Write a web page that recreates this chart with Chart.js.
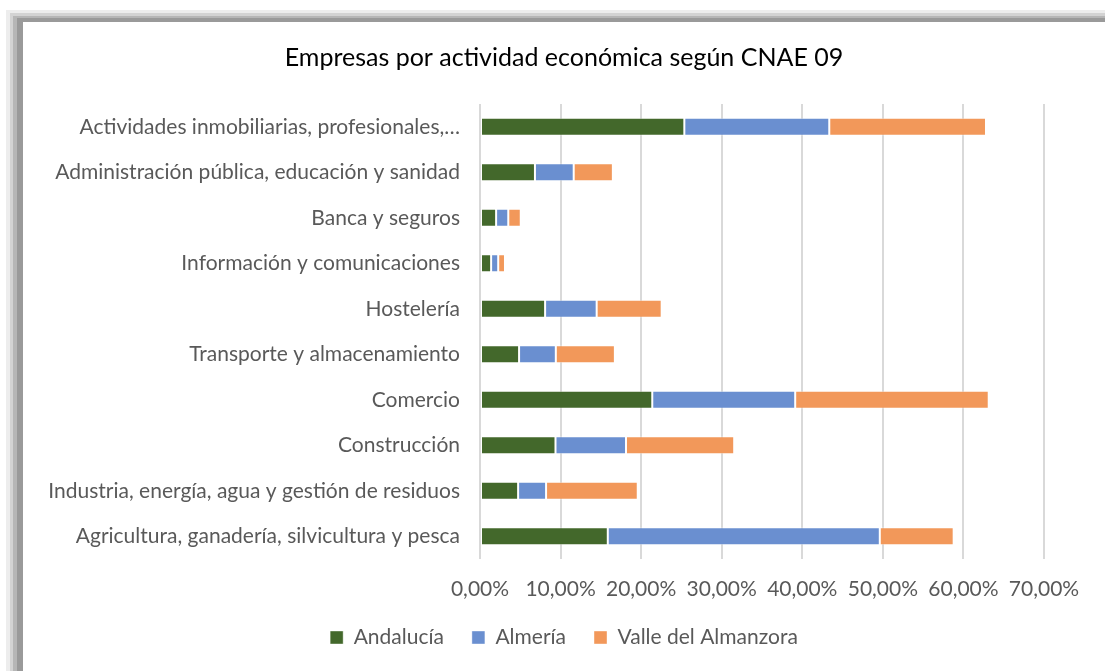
<!DOCTYPE html>
<html>
<head>
<meta charset="utf-8">
<script src="https://cdn.jsdelivr.net/npm/chart.js@4/dist/chart.umd.min.js"></script>
<style>
  html, body { margin: 0; padding: 0; background: #fff; overflow: hidden; }
  body { width: 1105px; height: 671px; position: relative; }
  #frame {
    position: absolute; left: 23px; top: 22px; width: 1200px; height: 760px;
    background: #fff;
    box-shadow: -6px -4px 0 0 #9a9a9a, -10px -6px 0 0 #b6b6b6,
                -13px -9px 0 0 #d3d3d3, -17px -12px 0 0 #ededed;
  }
  #chart { position: absolute; left: 0; top: 0; }
</style>
</head>
<body>
<div id="frame"><canvas id="chart" width="1082" height="649"></canvas></div>
<script>
// Empresas por actividad económica (porcentaje sobre el total)
var categories = [
  "Actividades inmobiliarias, profesionales,…",
  "Administración pública, educación y sanidad",
  "Banca y seguros",
  "Información y comunicaciones",
  "Hostelería",
  "Transporte y almacenamiento",
  "Comercio",
  "Construcción",
  "Industria, energía, agua y gestión de residuos",
  "Agricultura, ganadería, silvicultura y pesca"
];
var andalucia = [25.36, 6.82, 2.00, 1.38, 8.08, 4.85, 21.38, 9.37, 4.73, 15.86];
var almeria   = [17.99, 4.81, 1.51, 0.88, 6.40, 4.56, 17.74, 8.75, 3.47, 33.76];
var valle     = [19.45, 4.86, 1.55, 0.84, 8.07, 7.33, 24.02, 13.43, 11.38, 9.17];
var xTicks = [0, 10, 20, 30, 40, 50, 60, 70];

var textColor = "#595959";
var fontFamily = "Lato, 'Open Sans', sans-serif";

function pct(v) {
  return v.toFixed(2).replace(".", ",") + "%";
}

function dataset(label, data, color) {
  return {
    label: label,
    data: data,
    backgroundColor: color,
    borderColor: "rgba(255,255,255,0.4)",
    borderWidth: 1,
    borderSkipped: false,
    categoryPercentage: 1,
    barPercentage: 0.4
  };
}

new Chart(document.getElementById("chart").getContext("2d"), {
  type: "bar",
  data: {
    labels: categories,
    datasets: [
      dataset("Andalucía", andalucia, "#43682b"),
      dataset("Almería", almeria, "#6a8fd0"),
      dataset("Valle del Almanzora", valle, "#f2985a")
    ]
  },
  options: {
    indexAxis: "y",
    responsive: false,
    animation: false,
    layout: { padding: { left: 0, right: 0, top: 0, bottom: 13 } },
    plugins: {
      tooltip: { enabled: false },
      title: {
        display: true,
        text: "Empresas por actividad económica según CNAE 09",
        color: "#000",
        font: { family: fontFamily, size: 25, weight: "normal" },
        padding: { top: 21, bottom: 31 }
      },
      legend: {
        position: "bottom",
        labels: {
          color: textColor,
          font: { family: fontFamily, size: 21 },
          boxWidth: 13,
          boxHeight: 13,
          padding: 28
        }
      }
    },
    scales: {
      x: {
        stacked: true,
        min: 0,
        max: 70,
        afterBuildTicks: function(axis) {
          axis.ticks = xTicks.map(function(v) { return { value: v }; });
        },
        afterFit: function(scale) { scale.height = 40; },
        ticks: {
          color: textColor,
          font: { family: fontFamily, size: 21, lineHeight: 0.76 },
          padding: 22,
          callback: function(v) { return pct(v); }
        },
        grid: { color: "#d9d9d9", lineWidth: 2, drawTicks: false },
        border: { display: false }
      },
      y: {
        stacked: true,
        afterFit: function(scale) { scale.width = 457; },
        ticks: {
          color: textColor,
          font: { family: fontFamily, size: 21 },
          padding: 20,
          autoSkip: false
        },
        grid: { display: false, drawTicks: false },
        border: { display: false }
      },
      // empty right margin so title and legend centre on the whole chart
      yRight: {
        type: "category",
        labels: categories,
        position: "right",
        afterFit: function(scale) { scale.width = 61; },
        ticks: { display: false },
        grid: { display: false, drawTicks: false },
        border: { display: false }
      }
    }
  }
});
</script>
</body>
</html>
